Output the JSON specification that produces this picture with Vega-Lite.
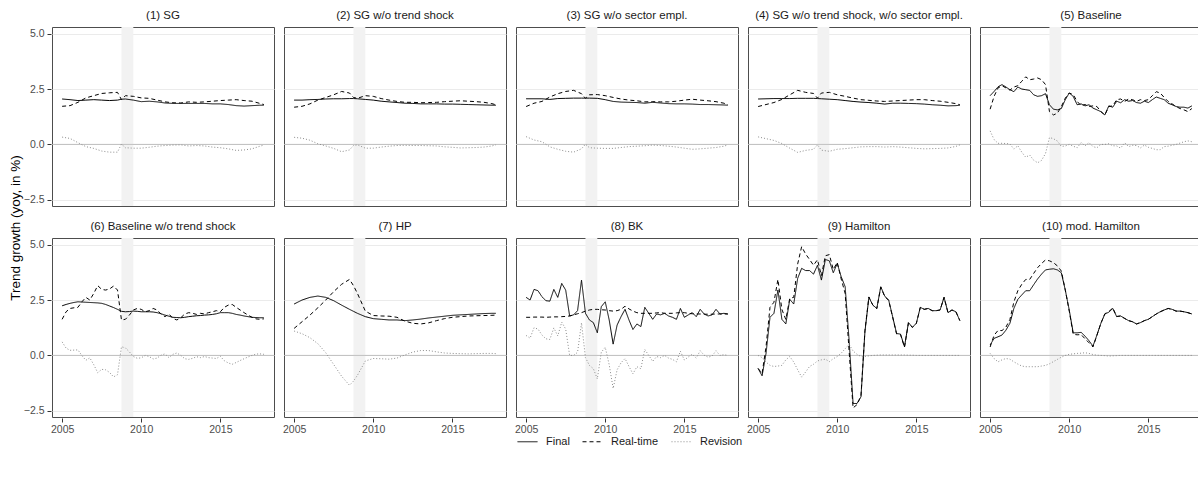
{
  "$schema": "https://vega.github.io/schema/vega-lite/v6.json",
  "padding": {"left": 8, "top": 9, "right": 0, "bottom": 4},
  "title": {
    "text": "Trend growth (yoy, in %)",
    "orient": "left",
    "anchor": "middle",
    "fontSize": 13.5,
    "fontWeight": "normal",
    "color": "#000000",
    "offset": 1
  },
  "data": {
    "values": [
      {"p":1,"t":2005,"f":2.05,"r":1.72,"v":0.33},
      {"p":1,"t":2005.5,"f":2.02,"r":1.75,"v":0.27},
      {"p":1,"t":2006,"f":1.98,"r":1.90,"v":0.08},
      {"p":1,"t":2006.5,"f":2.00,"r":2.10,"v":-0.10},
      {"p":1,"t":2007,"f":2.02,"r":2.20,"v":-0.18},
      {"p":1,"t":2007.5,"f":2.00,"r":2.30,"v":-0.30},
      {"p":1,"t":2008,"f":1.98,"r":2.33,"v":-0.35},
      {"p":1,"t":2008.5,"f":2.00,"r":2.35,"v":-0.35},
      {"p":1,"t":2008.75,"f":2.04,"r":2.02,"v":0.02},
      {"p":1,"t":2009,"f":2.05,"r":2.20,"v":-0.15},
      {"p":1,"t":2009.5,"f":2.00,"r":2.17,"v":-0.17},
      {"p":1,"t":2010,"f":1.93,"r":2.10,"v":-0.17},
      {"p":1,"t":2010.5,"f":1.95,"r":2.08,"v":-0.13},
      {"p":1,"t":2011,"f":1.92,"r":2.00,"v":-0.08},
      {"p":1,"t":2011.5,"f":1.87,"r":1.92,"v":-0.05},
      {"p":1,"t":2012,"f":1.85,"r":1.88,"v":-0.03},
      {"p":1,"t":2012.5,"f":1.85,"r":1.87,"v":-0.02},
      {"p":1,"t":2013,"f":1.85,"r":1.92,"v":-0.07},
      {"p":1,"t":2013.5,"f":1.85,"r":1.90,"v":-0.05},
      {"p":1,"t":2014,"f":1.85,"r":1.92,"v":-0.07},
      {"p":1,"t":2014.5,"f":1.83,"r":1.95,"v":-0.12},
      {"p":1,"t":2015,"f":1.83,"r":1.98,"v":-0.15},
      {"p":1,"t":2015.5,"f":1.80,"r":2.00,"v":-0.20},
      {"p":1,"t":2016,"f":1.75,"r":2.02,"v":-0.27},
      {"p":1,"t":2016.5,"f":1.73,"r":1.98,"v":-0.25},
      {"p":1,"t":2017,"f":1.75,"r":1.95,"v":-0.20},
      {"p":1,"t":2017.5,"f":1.77,"r":1.85,"v":-0.08},
      {"p":1,"t":2017.75,"f":1.77,"r":1.80,"v":-0.03},

      {"p":2,"t":2005,"f":2.00,"r":1.68,"v":0.32},
      {"p":2,"t":2005.5,"f":2.00,"r":1.72,"v":0.28},
      {"p":2,"t":2006,"f":2.02,"r":1.83,"v":0.19},
      {"p":2,"t":2006.5,"f":2.03,"r":2.00,"v":0.03},
      {"p":2,"t":2007,"f":2.05,"r":2.12,"v":-0.07},
      {"p":2,"t":2007.5,"f":2.06,"r":2.24,"v":-0.18},
      {"p":2,"t":2008,"f":2.06,"r":2.39,"v":-0.33},
      {"p":2,"t":2008.5,"f":2.07,"r":2.32,"v":-0.25},
      {"p":2,"t":2008.75,"f":2.07,"r":2.12,"v":-0.05},
      {"p":2,"t":2009,"f":2.06,"r":2.08,"v":-0.02},
      {"p":2,"t":2009.5,"f":2.03,"r":2.20,"v":-0.17},
      {"p":2,"t":2010,"f":2.00,"r":2.17,"v":-0.17},
      {"p":2,"t":2010.5,"f":1.95,"r":2.07,"v":-0.12},
      {"p":2,"t":2011,"f":1.92,"r":2.00,"v":-0.08},
      {"p":2,"t":2011.5,"f":1.89,"r":1.94,"v":-0.05},
      {"p":2,"t":2012,"f":1.86,"r":1.90,"v":-0.04},
      {"p":2,"t":2012.5,"f":1.85,"r":1.90,"v":-0.05},
      {"p":2,"t":2013,"f":1.83,"r":1.88,"v":-0.05},
      {"p":2,"t":2013.5,"f":1.83,"r":1.89,"v":-0.06},
      {"p":2,"t":2014,"f":1.83,"r":1.90,"v":-0.07},
      {"p":2,"t":2014.5,"f":1.82,"r":1.93,"v":-0.11},
      {"p":2,"t":2015,"f":1.82,"r":1.95,"v":-0.13},
      {"p":2,"t":2015.5,"f":1.81,"r":1.97,"v":-0.16},
      {"p":2,"t":2016,"f":1.80,"r":1.95,"v":-0.15},
      {"p":2,"t":2016.5,"f":1.79,"r":1.93,"v":-0.14},
      {"p":2,"t":2017,"f":1.78,"r":1.90,"v":-0.12},
      {"p":2,"t":2017.5,"f":1.77,"r":1.84,"v":-0.07},
      {"p":2,"t":2017.75,"f":1.77,"r":1.79,"v":-0.02},

      {"p":3,"t":2005,"f":2.06,"r":1.71,"v":0.35},
      {"p":3,"t":2005.5,"f":2.06,"r":1.86,"v":0.20},
      {"p":3,"t":2006,"f":2.06,"r":1.94,"v":0.12},
      {"p":3,"t":2006.5,"f":2.03,"r":2.14,"v":-0.11},
      {"p":3,"t":2007,"f":2.07,"r":2.29,"v":-0.22},
      {"p":3,"t":2007.5,"f":2.08,"r":2.39,"v":-0.31},
      {"p":3,"t":2008,"f":2.09,"r":2.44,"v":-0.35},
      {"p":3,"t":2008.5,"f":2.09,"r":2.29,"v":-0.20},
      {"p":3,"t":2008.75,"f":2.09,"r":2.08,"v":0.01},
      {"p":3,"t":2009,"f":2.09,"r":2.24,"v":-0.15},
      {"p":3,"t":2009.5,"f":2.08,"r":2.25,"v":-0.17},
      {"p":3,"t":2010,"f":2.02,"r":2.20,"v":-0.18},
      {"p":3,"t":2010.5,"f":1.94,"r":2.12,"v":-0.18},
      {"p":3,"t":2011,"f":1.91,"r":2.05,"v":-0.14},
      {"p":3,"t":2011.5,"f":1.90,"r":2.00,"v":-0.10},
      {"p":3,"t":2012,"f":1.89,"r":1.97,"v":-0.08},
      {"p":3,"t":2012.5,"f":1.86,"r":1.92,"v":-0.06},
      {"p":3,"t":2013,"f":1.90,"r":1.93,"v":-0.03},
      {"p":3,"t":2013.5,"f":1.87,"r":1.92,"v":-0.05},
      {"p":3,"t":2014,"f":1.84,"r":1.92,"v":-0.08},
      {"p":3,"t":2014.5,"f":1.83,"r":1.95,"v":-0.12},
      {"p":3,"t":2015,"f":1.83,"r":2.00,"v":-0.17},
      {"p":3,"t":2015.5,"f":1.82,"r":2.04,"v":-0.22},
      {"p":3,"t":2016,"f":1.80,"r":2.00,"v":-0.20},
      {"p":3,"t":2016.5,"f":1.80,"r":1.97,"v":-0.17},
      {"p":3,"t":2017,"f":1.79,"r":1.93,"v":-0.14},
      {"p":3,"t":2017.5,"f":1.78,"r":1.86,"v":-0.08},
      {"p":3,"t":2017.75,"f":1.77,"r":1.79,"v":-0.02},

      {"p":4,"t":2005,"f":2.05,"r":1.71,"v":0.34},
      {"p":4,"t":2005.5,"f":2.06,"r":1.80,"v":0.26},
      {"p":4,"t":2006,"f":2.07,"r":1.89,"v":0.18},
      {"p":4,"t":2006.5,"f":2.07,"r":2.03,"v":0.04},
      {"p":4,"t":2007,"f":2.07,"r":2.24,"v":-0.17},
      {"p":4,"t":2007.5,"f":2.08,"r":2.44,"v":-0.36},
      {"p":4,"t":2008,"f":2.08,"r":2.35,"v":-0.27},
      {"p":4,"t":2008.5,"f":2.08,"r":2.30,"v":-0.22},
      {"p":4,"t":2008.75,"f":2.07,"r":2.09,"v":-0.02},
      {"p":4,"t":2009,"f":2.06,"r":2.32,"v":-0.26},
      {"p":4,"t":2009.5,"f":2.04,"r":2.35,"v":-0.31},
      {"p":4,"t":2010,"f":2.02,"r":2.24,"v":-0.22},
      {"p":4,"t":2010.5,"f":1.98,"r":2.17,"v":-0.19},
      {"p":4,"t":2011,"f":1.94,"r":2.09,"v":-0.15},
      {"p":4,"t":2011.5,"f":1.91,"r":2.02,"v":-0.11},
      {"p":4,"t":2012,"f":1.89,"r":1.99,"v":-0.10},
      {"p":4,"t":2012.5,"f":1.86,"r":1.96,"v":-0.10},
      {"p":4,"t":2013,"f":1.82,"r":1.94,"v":-0.12},
      {"p":4,"t":2013.5,"f":1.86,"r":1.96,"v":-0.10},
      {"p":4,"t":2014,"f":1.86,"r":1.98,"v":-0.12},
      {"p":4,"t":2014.5,"f":1.85,"r":2.00,"v":-0.15},
      {"p":4,"t":2015,"f":1.84,"r":2.02,"v":-0.18},
      {"p":4,"t":2015.5,"f":1.82,"r":2.02,"v":-0.20},
      {"p":4,"t":2016,"f":1.79,"r":1.98,"v":-0.19},
      {"p":4,"t":2016.5,"f":1.77,"r":1.95,"v":-0.18},
      {"p":4,"t":2017,"f":1.74,"r":1.90,"v":-0.16},
      {"p":4,"t":2017.5,"f":1.75,"r":1.84,"v":-0.09},
      {"p":4,"t":2017.75,"f":1.77,"r":1.79,"v":-0.02},

      {"p":5,"t":2005,"f":2.20,"r":1.59,"v":0.61},
      {"p":5,"t":2005.25,"f":2.39,"r":2.17,"v":0.22},
      {"p":5,"t":2005.5,"f":2.60,"r":2.55,"v":0.05},
      {"p":5,"t":2005.75,"f":2.70,"r":2.65,"v":0.05},
      {"p":5,"t":2006,"f":2.59,"r":2.55,"v":0.04},
      {"p":5,"t":2006.25,"f":2.47,"r":2.45,"v":0.02},
      {"p":5,"t":2006.5,"f":2.38,"r":2.59,"v":-0.21},
      {"p":5,"t":2006.75,"f":2.59,"r":2.65,"v":-0.06},
      {"p":5,"t":2007,"f":2.50,"r":2.85,"v":-0.35},
      {"p":5,"t":2007.25,"f":2.47,"r":3.05,"v":-0.58},
      {"p":5,"t":2007.5,"f":2.44,"r":2.92,"v":-0.48},
      {"p":5,"t":2007.75,"f":2.24,"r":2.95,"v":-0.71},
      {"p":5,"t":2008,"f":2.17,"r":3.00,"v":-0.83},
      {"p":5,"t":2008.25,"f":2.20,"r":2.92,"v":-0.72},
      {"p":5,"t":2008.5,"f":2.29,"r":2.70,"v":-0.41},
      {"p":5,"t":2008.75,"f":1.79,"r":1.48,"v":0.31},
      {"p":5,"t":2009,"f":1.59,"r":1.33,"v":0.26},
      {"p":5,"t":2009.25,"f":1.56,"r":1.41,"v":0.15},
      {"p":5,"t":2009.5,"f":1.62,"r":1.71,"v":-0.09},
      {"p":5,"t":2009.75,"f":2.02,"r":2.09,"v":-0.07},
      {"p":5,"t":2010,"f":2.32,"r":2.32,"v":0.00},
      {"p":5,"t":2010.25,"f":2.17,"r":2.25,"v":-0.08},
      {"p":5,"t":2010.5,"f":1.79,"r":1.94,"v":-0.15},
      {"p":5,"t":2010.75,"f":1.83,"r":1.75,"v":0.08},
      {"p":5,"t":2011,"f":1.74,"r":1.80,"v":-0.06},
      {"p":5,"t":2011.25,"f":1.79,"r":1.71,"v":0.08},
      {"p":5,"t":2011.5,"f":1.64,"r":1.74,"v":-0.10},
      {"p":5,"t":2011.75,"f":1.56,"r":1.71,"v":-0.15},
      {"p":5,"t":2012,"f":1.48,"r":1.48,"v":0.00},
      {"p":5,"t":2012.25,"f":1.33,"r":1.33,"v":0.00},
      {"p":5,"t":2012.5,"f":1.74,"r":1.71,"v":0.03},
      {"p":5,"t":2012.75,"f":1.68,"r":1.74,"v":-0.06},
      {"p":5,"t":2013,"f":1.95,"r":2.02,"v":-0.07},
      {"p":5,"t":2013.25,"f":1.88,"r":2.05,"v":-0.17},
      {"p":5,"t":2013.5,"f":2.02,"r":1.94,"v":0.08},
      {"p":5,"t":2013.75,"f":1.95,"r":2.05,"v":-0.10},
      {"p":5,"t":2014,"f":1.98,"r":2.02,"v":-0.04},
      {"p":5,"t":2014.25,"f":1.89,"r":1.94,"v":-0.05},
      {"p":5,"t":2014.5,"f":1.86,"r":2.02,"v":-0.16},
      {"p":5,"t":2014.75,"f":1.95,"r":1.98,"v":-0.03},
      {"p":5,"t":2015,"f":1.89,"r":2.02,"v":-0.13},
      {"p":5,"t":2015.25,"f":2.02,"r":2.20,"v":-0.18},
      {"p":5,"t":2015.5,"f":2.14,"r":2.38,"v":-0.24},
      {"p":5,"t":2015.75,"f":2.08,"r":2.32,"v":-0.24},
      {"p":5,"t":2016,"f":2.02,"r":2.12,"v":-0.10},
      {"p":5,"t":2016.25,"f":1.86,"r":1.94,"v":-0.08},
      {"p":5,"t":2016.5,"f":1.79,"r":1.83,"v":-0.04},
      {"p":5,"t":2016.75,"f":1.71,"r":1.71,"v":0.00},
      {"p":5,"t":2017,"f":1.68,"r":1.62,"v":0.06},
      {"p":5,"t":2017.25,"f":1.68,"r":1.56,"v":0.12},
      {"p":5,"t":2017.5,"f":1.64,"r":1.48,"v":0.16},
      {"p":5,"t":2017.75,"f":1.74,"r":1.62,"v":0.12},

      {"p":6,"t":2005,"f":2.24,"r":1.63,"v":0.61},
      {"p":6,"t":2005.25,"f":2.30,"r":1.97,"v":0.33},
      {"p":6,"t":2005.5,"f":2.35,"r":2.12,"v":0.23},
      {"p":6,"t":2005.75,"f":2.39,"r":2.15,"v":0.24},
      {"p":6,"t":2006,"f":2.42,"r":2.17,"v":0.25},
      {"p":6,"t":2006.25,"f":2.41,"r":2.42,"v":-0.01},
      {"p":6,"t":2006.5,"f":2.40,"r":2.62,"v":-0.22},
      {"p":6,"t":2006.75,"f":2.39,"r":2.50,"v":-0.11},
      {"p":6,"t":2007,"f":2.38,"r":2.80,"v":-0.42},
      {"p":6,"t":2007.25,"f":2.37,"r":3.15,"v":-0.78},
      {"p":6,"t":2007.5,"f":2.35,"r":2.98,"v":-0.63},
      {"p":6,"t":2007.75,"f":2.30,"r":2.95,"v":-0.65},
      {"p":6,"t":2008,"f":2.23,"r":3.00,"v":-0.77},
      {"p":6,"t":2008.25,"f":2.16,"r":3.13,"v":-0.97},
      {"p":6,"t":2008.5,"f":2.08,"r":2.95,"v":-0.87},
      {"p":6,"t":2008.75,"f":1.99,"r":1.60,"v":0.39},
      {"p":6,"t":2009,"f":1.97,"r":1.63,"v":0.34},
      {"p":6,"t":2009.25,"f":1.98,"r":1.82,"v":0.16},
      {"p":6,"t":2009.5,"f":2.00,"r":2.05,"v":-0.05},
      {"p":6,"t":2009.75,"f":1.99,"r":2.12,"v":-0.13},
      {"p":6,"t":2010,"f":1.97,"r":2.08,"v":-0.11},
      {"p":6,"t":2010.25,"f":1.97,"r":1.97,"v":0.00},
      {"p":6,"t":2010.5,"f":1.97,"r":2.02,"v":-0.05},
      {"p":6,"t":2010.75,"f":1.96,"r":2.12,"v":-0.16},
      {"p":6,"t":2011,"f":1.93,"r":2.05,"v":-0.12},
      {"p":6,"t":2011.25,"f":1.88,"r":1.87,"v":0.01},
      {"p":6,"t":2011.5,"f":1.82,"r":1.75,"v":0.07},
      {"p":6,"t":2011.75,"f":1.77,"r":1.87,"v":-0.10},
      {"p":6,"t":2012,"f":1.72,"r":1.67,"v":0.05},
      {"p":6,"t":2012.25,"f":1.71,"r":1.60,"v":0.11},
      {"p":6,"t":2012.5,"f":1.70,"r":1.70,"v":0.00},
      {"p":6,"t":2012.75,"f":1.72,"r":1.87,"v":-0.15},
      {"p":6,"t":2013,"f":1.75,"r":1.93,"v":-0.18},
      {"p":6,"t":2013.25,"f":1.77,"r":1.90,"v":-0.13},
      {"p":6,"t":2013.5,"f":1.79,"r":1.85,"v":-0.06},
      {"p":6,"t":2013.75,"f":1.80,"r":1.90,"v":-0.10},
      {"p":6,"t":2014,"f":1.82,"r":1.87,"v":-0.05},
      {"p":6,"t":2014.25,"f":1.83,"r":1.93,"v":-0.10},
      {"p":6,"t":2014.5,"f":1.85,"r":1.97,"v":-0.12},
      {"p":6,"t":2014.75,"f":1.88,"r":2.02,"v":-0.14},
      {"p":6,"t":2015,"f":1.93,"r":1.97,"v":-0.04},
      {"p":6,"t":2015.25,"f":1.93,"r":2.17,"v":-0.24},
      {"p":6,"t":2015.5,"f":1.93,"r":2.27,"v":-0.34},
      {"p":6,"t":2015.75,"f":1.90,"r":2.30,"v":-0.40},
      {"p":6,"t":2016,"f":1.85,"r":2.17,"v":-0.32},
      {"p":6,"t":2016.25,"f":1.82,"r":2.05,"v":-0.23},
      {"p":6,"t":2016.5,"f":1.78,"r":1.93,"v":-0.15},
      {"p":6,"t":2016.75,"f":1.75,"r":1.82,"v":-0.07},
      {"p":6,"t":2017,"f":1.72,"r":1.72,"v":0.00},
      {"p":6,"t":2017.25,"f":1.71,"r":1.65,"v":0.06},
      {"p":6,"t":2017.5,"f":1.70,"r":1.63,"v":0.07},
      {"p":6,"t":2017.75,"f":1.70,"r":1.65,"v":0.05},

      {"p":7,"t":2005,"f":2.32,"r":1.22,"v":1.10},
      {"p":7,"t":2005.5,"f":2.50,"r":1.52,"v":0.98},
      {"p":7,"t":2006,"f":2.62,"r":1.82,"v":0.80},
      {"p":7,"t":2006.5,"f":2.68,"r":2.15,"v":0.53},
      {"p":7,"t":2007,"f":2.62,"r":2.50,"v":0.12},
      {"p":7,"t":2007.5,"f":2.47,"r":2.88,"v":-0.41},
      {"p":7,"t":2008,"f":2.27,"r":3.21,"v":-0.94},
      {"p":7,"t":2008.5,"f":2.08,"r":3.43,"v":-1.35},
      {"p":7,"t":2008.75,"f":1.99,"r":3.15,"v":-1.16},
      {"p":7,"t":2009,"f":1.90,"r":2.80,"v":-0.90},
      {"p":7,"t":2009.5,"f":1.75,"r":2.00,"v":-0.25},
      {"p":7,"t":2010,"f":1.66,"r":1.80,"v":-0.14},
      {"p":7,"t":2010.5,"f":1.63,"r":1.78,"v":-0.15},
      {"p":7,"t":2011,"f":1.60,"r":1.77,"v":-0.17},
      {"p":7,"t":2011.5,"f":1.60,"r":1.72,"v":-0.12},
      {"p":7,"t":2012,"f":1.57,"r":1.55,"v":0.02},
      {"p":7,"t":2012.5,"f":1.60,"r":1.45,"v":0.15},
      {"p":7,"t":2013,"f":1.64,"r":1.42,"v":0.22},
      {"p":7,"t":2013.5,"f":1.69,"r":1.47,"v":0.22},
      {"p":7,"t":2014,"f":1.73,"r":1.57,"v":0.16},
      {"p":7,"t":2014.5,"f":1.77,"r":1.66,"v":0.11},
      {"p":7,"t":2015,"f":1.81,"r":1.72,"v":0.09},
      {"p":7,"t":2015.5,"f":1.83,"r":1.75,"v":0.08},
      {"p":7,"t":2016,"f":1.85,"r":1.78,"v":0.07},
      {"p":7,"t":2016.5,"f":1.87,"r":1.79,"v":0.08},
      {"p":7,"t":2017,"f":1.89,"r":1.80,"v":0.09},
      {"p":7,"t":2017.5,"f":1.90,"r":1.81,"v":0.09},
      {"p":7,"t":2017.75,"f":1.90,"r":1.82,"v":0.08},

      {"p":8,"t":2005,"f":2.62,"r":1.72,"v":0.90},
      {"p":8,"t":2005.25,"f":2.50,"r":1.72,"v":0.78},
      {"p":8,"t":2005.5,"f":2.98,"r":1.73,"v":1.25},
      {"p":8,"t":2005.75,"f":2.92,"r":1.73,"v":1.19},
      {"p":8,"t":2006,"f":2.65,"r":1.73,"v":0.92},
      {"p":8,"t":2006.25,"f":2.47,"r":1.72,"v":0.75},
      {"p":8,"t":2006.5,"f":2.45,"r":1.73,"v":0.72},
      {"p":8,"t":2006.75,"f":2.98,"r":1.74,"v":1.24},
      {"p":8,"t":2007,"f":2.62,"r":1.74,"v":0.88},
      {"p":8,"t":2007.25,"f":3.25,"r":1.75,"v":1.50},
      {"p":8,"t":2007.5,"f":2.95,"r":1.76,"v":1.19},
      {"p":8,"t":2007.75,"f":1.78,"r":1.78,"v":0.00},
      {"p":8,"t":2008,"f":1.83,"r":1.83,"v":0.00},
      {"p":8,"t":2008.25,"f":2.02,"r":1.88,"v":0.14},
      {"p":8,"t":2008.5,"f":3.40,"r":1.93,"v":1.47},
      {"p":8,"t":2008.75,"f":1.90,"r":2.00,"v":-0.10},
      {"p":8,"t":2009,"f":1.60,"r":2.05,"v":-0.45},
      {"p":8,"t":2009.25,"f":1.48,"r":2.08,"v":-0.60},
      {"p":8,"t":2009.5,"f":1.02,"r":2.08,"v":-1.06},
      {"p":8,"t":2009.75,"f":2.20,"r":2.06,"v":0.14},
      {"p":8,"t":2010,"f":2.42,"r":2.05,"v":0.37},
      {"p":8,"t":2010.25,"f":1.60,"r":2.02,"v":-0.42},
      {"p":8,"t":2010.5,"f":0.51,"r":2.00,"v":-1.49},
      {"p":8,"t":2010.75,"f":1.37,"r":2.02,"v":-0.65},
      {"p":8,"t":2011,"f":1.75,"r":2.08,"v":-0.33},
      {"p":8,"t":2011.25,"f":2.08,"r":2.22,"v":-0.14},
      {"p":8,"t":2011.5,"f":1.60,"r":2.10,"v":-0.50},
      {"p":8,"t":2011.75,"f":1.17,"r":2.00,"v":-0.83},
      {"p":8,"t":2012,"f":1.42,"r":1.93,"v":-0.51},
      {"p":8,"t":2012.25,"f":1.30,"r":1.90,"v":-0.60},
      {"p":8,"t":2012.5,"f":2.17,"r":1.90,"v":0.27},
      {"p":8,"t":2012.75,"f":1.90,"r":1.90,"v":0.00},
      {"p":8,"t":2013,"f":1.63,"r":1.90,"v":-0.27},
      {"p":8,"t":2013.25,"f":1.87,"r":1.92,"v":-0.05},
      {"p":8,"t":2013.5,"f":1.83,"r":1.93,"v":-0.10},
      {"p":8,"t":2013.75,"f":1.90,"r":1.90,"v":0.00},
      {"p":8,"t":2014,"f":1.78,"r":1.90,"v":-0.12},
      {"p":8,"t":2014.25,"f":1.72,"r":1.90,"v":-0.18},
      {"p":8,"t":2014.5,"f":1.63,"r":1.92,"v":-0.29},
      {"p":8,"t":2014.75,"f":2.12,"r":1.93,"v":0.19},
      {"p":8,"t":2015,"f":1.72,"r":1.93,"v":-0.21},
      {"p":8,"t":2015.25,"f":1.83,"r":1.90,"v":-0.07},
      {"p":8,"t":2015.5,"f":1.93,"r":1.88,"v":0.05},
      {"p":8,"t":2015.75,"f":1.75,"r":1.87,"v":-0.12},
      {"p":8,"t":2016,"f":2.08,"r":1.87,"v":0.21},
      {"p":8,"t":2016.25,"f":1.87,"r":1.86,"v":0.01},
      {"p":8,"t":2016.5,"f":1.78,"r":1.86,"v":-0.08},
      {"p":8,"t":2016.75,"f":1.83,"r":1.86,"v":-0.03},
      {"p":8,"t":2017,"f":2.08,"r":1.87,"v":0.21},
      {"p":8,"t":2017.25,"f":1.87,"r":1.87,"v":0.00},
      {"p":8,"t":2017.5,"f":1.90,"r":1.87,"v":0.03},
      {"p":8,"t":2017.75,"f":1.87,"r":1.87,"v":0.00},

      {"p":9,"t":2005,"f":-0.59,"r":-0.59,"v":0.00},
      {"p":9,"t":2005.25,"f":-0.92,"r":-0.82,"v":-0.10},
      {"p":9,"t":2005.5,"f":0.09,"r":0.39,"v":-0.30},
      {"p":9,"t":2005.75,"f":1.72,"r":2.17,"v":-0.45},
      {"p":9,"t":2006,"f":1.90,"r":2.40,"v":-0.50},
      {"p":9,"t":2006.25,"f":2.95,"r":3.43,"v":-0.48},
      {"p":9,"t":2006.5,"f":1.63,"r":2.08,"v":-0.45},
      {"p":9,"t":2006.75,"f":1.42,"r":1.62,"v":-0.20},
      {"p":9,"t":2007,"f":2.53,"r":2.58,"v":-0.05},
      {"p":9,"t":2007.25,"f":2.32,"r":2.62,"v":-0.30},
      {"p":9,"t":2007.5,"f":3.48,"r":4.13,"v":-0.65},
      {"p":9,"t":2007.75,"f":3.93,"r":4.91,"v":-0.98},
      {"p":9,"t":2008,"f":3.83,"r":4.58,"v":-0.75},
      {"p":9,"t":2008.25,"f":3.83,"r":4.33,"v":-0.50},
      {"p":9,"t":2008.5,"f":3.67,"r":4.07,"v":-0.40},
      {"p":9,"t":2008.75,"f":4.07,"r":4.32,"v":-0.25},
      {"p":9,"t":2009,"f":3.40,"r":3.60,"v":-0.20},
      {"p":9,"t":2009.25,"f":4.33,"r":4.50,"v":-0.17},
      {"p":9,"t":2009.5,"f":4.27,"r":4.55,"v":-0.28},
      {"p":9,"t":2009.75,"f":3.73,"r":3.88,"v":-0.15},
      {"p":9,"t":2010,"f":4.15,"r":4.20,"v":-0.05},
      {"p":9,"t":2010.25,"f":3.55,"r":3.45,"v":0.10},
      {"p":9,"t":2010.5,"f":3.10,"r":2.80,"v":0.30},
      {"p":9,"t":2010.75,"f":0.69,"r":0.19,"v":0.50},
      {"p":9,"t":2011,"f":-2.17,"r":-2.37,"v":0.20},
      {"p":9,"t":2011.25,"f":-2.17,"r":-2.22,"v":0.05},
      {"p":9,"t":2011.5,"f":-1.87,"r":-1.82,"v":-0.05},
      {"p":9,"t":2011.75,"f":1.07,"r":1.12,"v":-0.05},
      {"p":9,"t":2012,"f":2.62,"r":2.64,"v":-0.02},
      {"p":9,"t":2012.25,"f":2.27,"r":2.27,"v":0.00},
      {"p":9,"t":2012.5,"f":2.12,"r":2.11,"v":0.01},
      {"p":9,"t":2012.75,"f":3.10,"r":3.08,"v":0.02},
      {"p":9,"t":2013,"f":2.68,"r":2.66,"v":0.02},
      {"p":9,"t":2013.25,"f":2.50,"r":2.48,"v":0.02},
      {"p":9,"t":2013.5,"f":1.75,"r":1.73,"v":0.02},
      {"p":9,"t":2013.75,"f":0.99,"r":0.97,"v":0.02},
      {"p":9,"t":2014,"f":0.96,"r":0.94,"v":0.02},
      {"p":9,"t":2014.25,"f":0.39,"r":0.37,"v":0.02},
      {"p":9,"t":2014.5,"f":1.48,"r":1.47,"v":0.01},
      {"p":9,"t":2014.75,"f":1.27,"r":1.26,"v":0.01},
      {"p":9,"t":2015,"f":1.45,"r":1.45,"v":0.00},
      {"p":9,"t":2015.25,"f":2.17,"r":2.17,"v":0.00},
      {"p":9,"t":2015.5,"f":2.08,"r":2.08,"v":0.00},
      {"p":9,"t":2015.75,"f":2.12,"r":2.12,"v":0.00},
      {"p":9,"t":2016,"f":2.02,"r":2.02,"v":0.00},
      {"p":9,"t":2016.25,"f":2.02,"r":2.02,"v":0.00},
      {"p":9,"t":2016.5,"f":2.05,"r":2.05,"v":0.00},
      {"p":9,"t":2016.75,"f":2.62,"r":2.62,"v":0.00},
      {"p":9,"t":2017,"f":1.93,"r":1.93,"v":0.00},
      {"p":9,"t":2017.25,"f":2.05,"r":2.05,"v":0.00},
      {"p":9,"t":2017.5,"f":1.97,"r":1.97,"v":0.00},
      {"p":9,"t":2017.75,"f":1.57,"r":1.57,"v":0.00},

      {"p":10,"t":2005,"f":0.47,"r":0.38,"v":0.09},
      {"p":10,"t":2005.25,"f":0.77,"r":0.91,"v":-0.14},
      {"p":10,"t":2005.5,"f":0.84,"r":1.13,"v":-0.29},
      {"p":10,"t":2005.75,"f":0.92,"r":1.12,"v":-0.20},
      {"p":10,"t":2006,"f":1.14,"r":1.28,"v":-0.14},
      {"p":10,"t":2006.25,"f":1.45,"r":1.62,"v":-0.17},
      {"p":10,"t":2006.5,"f":2.12,"r":2.41,"v":-0.29},
      {"p":10,"t":2006.75,"f":2.53,"r":2.92,"v":-0.39},
      {"p":10,"t":2007,"f":2.73,"r":3.21,"v":-0.48},
      {"p":10,"t":2007.25,"f":2.92,"r":3.43,"v":-0.51},
      {"p":10,"t":2007.5,"f":2.92,"r":3.43,"v":-0.51},
      {"p":10,"t":2007.75,"f":3.19,"r":3.70,"v":-0.51},
      {"p":10,"t":2008,"f":3.45,"r":3.96,"v":-0.51},
      {"p":10,"t":2008.25,"f":3.67,"r":4.15,"v":-0.48},
      {"p":10,"t":2008.5,"f":3.86,"r":4.31,"v":-0.45},
      {"p":10,"t":2008.75,"f":3.89,"r":4.27,"v":-0.38},
      {"p":10,"t":2009,"f":3.91,"r":4.19,"v":-0.28},
      {"p":10,"t":2009.25,"f":3.86,"r":4.04,"v":-0.18},
      {"p":10,"t":2009.5,"f":3.73,"r":3.81,"v":-0.08},
      {"p":10,"t":2009.75,"f":2.95,"r":2.95,"v":0.00},
      {"p":10,"t":2010,"f":2.05,"r":2.00,"v":0.05},
      {"p":10,"t":2010.25,"f":1.02,"r":0.95,"v":0.07},
      {"p":10,"t":2010.5,"f":1.02,"r":0.93,"v":0.09},
      {"p":10,"t":2010.75,"f":1.04,"r":0.94,"v":0.10},
      {"p":10,"t":2011,"f":0.87,"r":0.75,"v":0.12},
      {"p":10,"t":2011.25,"f":0.66,"r":0.57,"v":0.09},
      {"p":10,"t":2011.5,"f":0.42,"r":0.38,"v":0.04},
      {"p":10,"t":2011.75,"f":0.92,"r":0.91,"v":0.01},
      {"p":10,"t":2012,"f":1.45,"r":1.45,"v":0.00},
      {"p":10,"t":2012.25,"f":1.87,"r":1.88,"v":-0.01},
      {"p":10,"t":2012.5,"f":1.95,"r":1.98,"v":-0.03},
      {"p":10,"t":2012.75,"f":2.12,"r":2.14,"v":-0.02},
      {"p":10,"t":2013,"f":1.75,"r":1.76,"v":-0.01},
      {"p":10,"t":2013.25,"f":1.78,"r":1.78,"v":0.00},
      {"p":10,"t":2013.5,"f":1.67,"r":1.67,"v":0.00},
      {"p":10,"t":2013.75,"f":1.57,"r":1.57,"v":0.00},
      {"p":10,"t":2014,"f":1.52,"r":1.52,"v":0.00},
      {"p":10,"t":2014.25,"f":1.42,"r":1.42,"v":0.00},
      {"p":10,"t":2014.5,"f":1.48,"r":1.48,"v":0.00},
      {"p":10,"t":2014.75,"f":1.57,"r":1.57,"v":0.00},
      {"p":10,"t":2015,"f":1.63,"r":1.63,"v":0.00},
      {"p":10,"t":2015.25,"f":1.75,"r":1.75,"v":0.00},
      {"p":10,"t":2015.5,"f":1.87,"r":1.87,"v":0.00},
      {"p":10,"t":2015.75,"f":1.97,"r":1.97,"v":0.00},
      {"p":10,"t":2016,"f":2.05,"r":2.05,"v":0.00},
      {"p":10,"t":2016.25,"f":2.12,"r":2.12,"v":0.00},
      {"p":10,"t":2016.5,"f":2.08,"r":2.08,"v":0.00},
      {"p":10,"t":2016.75,"f":2.00,"r":2.00,"v":0.00},
      {"p":10,"t":2017,"f":2.00,"r":2.00,"v":0.00},
      {"p":10,"t":2017.25,"f":1.97,"r":1.97,"v":0.00},
      {"p":10,"t":2017.5,"f":1.93,"r":1.93,"v":0.00},
      {"p":10,"t":2017.75,"f":1.87,"r":1.87,"v":0.00}
    ]
  },
  "transform": [{"fold": ["f", "r", "v"], "as": ["series", "value"]}],
  "facet": {
    "field": "p",
    "type": "ordinal",
    "header": {
      "title": null,
      "labelExpr": "['', '(1) SG', '(2) SG w/o trend shock', '(3) SG w/o sector empl.', '(4) SG w/o trend shock, w/o sector empl.', '(5) Baseline', '(6) Baseline w/o trend shock', '(7) HP', '(8) BK', '(9) Hamilton', '(10) mod. Hamilton'][datum.value]",
      "labelFontSize": 11.5,
      "labelFontWeight": "normal",
      "labelColor": "#1a1a1a",
      "labelPadding": 6
    }
  },
  "columns": 5,
  "spacing": {"row": 13, "column": 8},
  "spec": {
    "width": 222,
    "height": 179,
    "layer": [
      {
        "transform": [{"filter": "datum.t == 2005 && datum.series == 'f'"}],
        "mark": {"type": "rect", "color": "#f2f2f2"},
        "encoding": {
          "x": {"datum": 2008.75, "type": "quantitative", "title": null},
          "x2": {"datum": 2009.5}
        }
      },
      {
        "transform": [{"filter": "datum.t == 2005 && datum.series == 'f'"}],
        "mark": {"type": "rule", "color": "#b3b3b3", "strokeWidth": 0.8},
        "encoding": {
          "y": {"datum": 0, "type": "quantitative", "title": null}
        }
      },
      {
        "mark": {"type": "line", "strokeWidth": 1},
        "encoding": {
          "x": {
            "field": "t",
            "type": "quantitative",
            "title": null,
            "scale": {"domain": [2004.36, 2018.39], "nice": false, "zero": false},
            "axis": {"values": [2005, 2010, 2015], "format": "d", "grid": false, "labelPadding": 2}
          },
          "y": {
            "field": "value",
            "type": "quantitative",
            "title": null,
            "scale": {"domain": [-2.78, 5.3], "nice": false, "zero": false},
            "axis": {"values": [-2.5, 0, 2.5, 5], "format": ".1f", "grid": true}
          },
          "color": {
            "field": "series",
            "type": "nominal",
            "scale": {"domain": ["f", "r", "v"], "range": ["#000000", "#000000", "#8c8c8c"]},
            "legend": {
              "title": " ",
              "labelExpr": "datum.label == 'f' ? 'Final' : datum.label == 'r' ? 'Real-time' : 'Revision'"
            }
          },
          "strokeDash": {
            "field": "series",
            "type": "nominal",
            "scale": {"domain": ["f", "r", "v"], "range": [[1, 0], [4, 3], [1, 2]]},
            "legend": {
              "title": " ",
              "labelExpr": "datum.label == 'f' ? 'Final' : datum.label == 'r' ? 'Real-time' : 'Revision'"
            }
          }
        }
      }
    ]
  },
  "config": {
    "font": "Liberation Sans",
    "view": {"stroke": "#4d4d4d", "strokeWidth": 1},
    "axis": {
      "domain": false,
      "labelColor": "#4d4d4d",
      "labelFontSize": 10.5,
      "labelPadding": 3,
      "tickColor": "#333333",
      "tickSize": 4,
      "gridColor": "#ebebeb",
      "gridWidth": 1.2
    },
    "legend": {
      "orient": "bottom",
      "direction": "horizontal",
      "symbolType": "stroke",
      "symbolSize": 400,
      "symbolStrokeWidth": 1,
      "labelFontSize": 11,
      "labelColor": "#1a1a1a",
      "labelOffset": 8,
      "columnPadding": 10,
      "titleOrient": "left",
      "titlePadding": 34,
      "offset": -4,
      "layout": {"bottom": {"anchor": "middle"}}
    }
  }
}
